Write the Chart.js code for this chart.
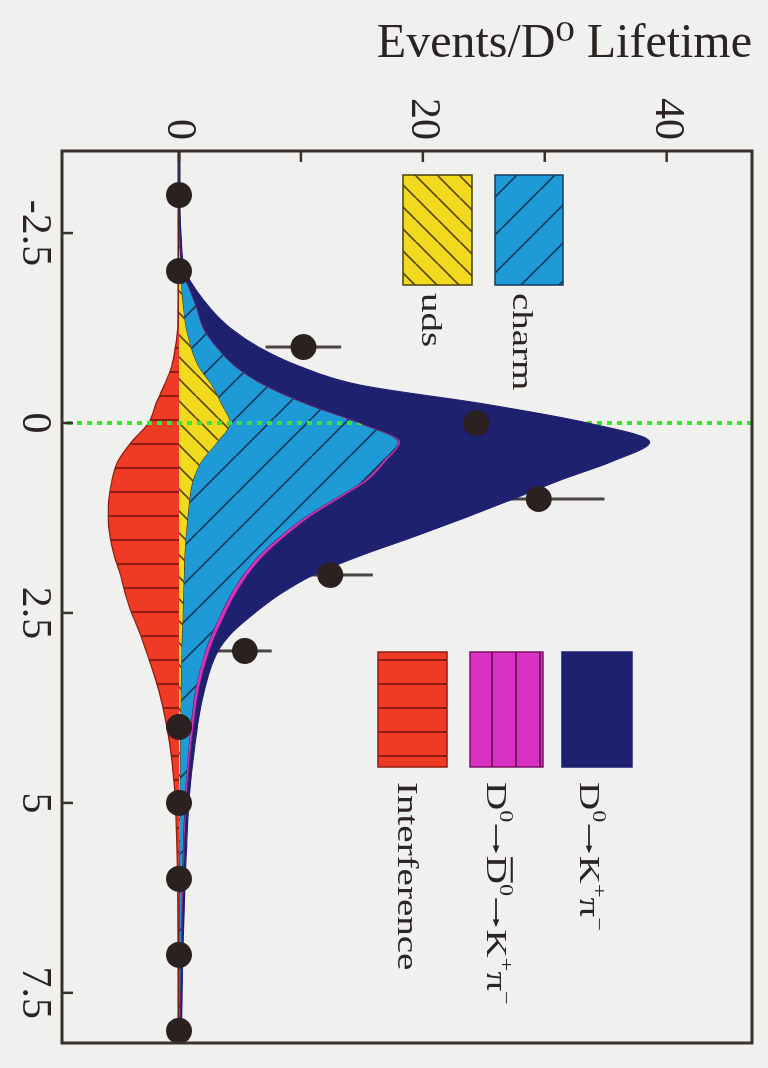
<!DOCTYPE html>
<html><head><meta charset="utf-8">
<style>
html,body{margin:0;padding:0;background:#f0f1ee;overflow:hidden;width:768px;height:1068px;}
#wrap{position:absolute;left:0;top:0;width:1068px;height:768px;transform-origin:0 0;transform:translate(768px,0) rotate(90deg);}
canvas{display:block;}
</style>
<script src="https://cdn.jsdelivr.net/npm/chart.js@4/dist/chart.umd.min.js"></script>
</head><body>
<div id="wrap"><canvas id="c" width="1068" height="768"></canvas></div>
<script>
// ---- data ----
const lifetimes = [-3.5,-3,-2.5,-2,-1.75,-1.5,-1.25,-1,-0.75,-0.5,-0.25,0,0.25,0.5,0.75,1,1.25,1.5,1.75,2,2.25,2.5,2.75,3,3.5,4,4.5,5,6,7,8];
const udsEvents = [0,0,0.05,0.15,0.25,0.4,0.6,1.0,1.6,2.7,3.5,4.2,3.2,1.9,1.2,0.9,0.75,0.6,0.5,0.45,0.4,0.35,0.3,0.25,0.2,0.15,0.12,0.1,0.05,0.04,0.03];
const charmEvents = [0,0,0.05,0.15,0.65,1.1,1.4,2.1,3.0,4.3,7.0,10.6,14.8,14.9,14.1,11.9,9.55,7.7,6.1,4.85,3.9,3.15,2.5,1.95,1.2,0.85,0.58,0.4,0.25,0.16,0.07];
const mixingEvents = [0,0,0.01,0.01,0.02,0.02,0.02,0.03,0.04,0.05,0.07,0.1,0.15,0.2,0.25,0.3,0.32,0.35,0.35,0.35,0.35,0.35,0.32,0.3,0.25,0.2,0.15,0.12,0.06,0.03,0.02];
const signalEvents = [0,0,0.04,0.19,0.48,1.08,2.18,3.37,5.16,7.75,14.43,18.6,20.45,18.6,15.75,14.3,12.78,10.55,7.85,5.35,3.65,2.35,1.28,0.7,0.45,0.3,0.25,0.18,0.14,0.07,0.08];
const interferenceEvents = [0,0,0,0,-0.02,-0.05,-0.1,-0.3,-0.6,-1.2,-1.9,-2.5,-3.9,-5.0,-5.5,-5.75,-5.8,-5.65,-5.3,-4.8,-4.4,-3.9,-3.25,-2.7,-1.7,-1.0,-0.55,-0.3,-0.12,-0.05,0];

const binCenters = [-3,-2,-1,0,1,2,3,4,5,6,7,8];
const dataEvents = [0,0,10.2,24.4,29.5,12.4,5.4,0,0,0,0,0];
const dataErrors = [0,0,3.1,4.9,5.4,3.5,2.2,0,0,0,0,0];

const lifetimeTicks = [-2.5,0,2.5,5,7.5];
const lifetimeTickLabels = ['-2.5','0','2.5','5','7.5'];
const eventTicks = [0,10,20,30,40];
const eventTickLabels = ['0','','20','','40'];
const axisTitle = 'Events/D\u2070 Lifetime';

const legendLabels = ['uds','charm','Interference','D^0\u2192~D^0\u2192K^+\u03c0^\u2212','D^0\u2192K^+\u03c0^\u2212'];

// ---- derived stacks ----
const cumUds = udsEvents.slice();
const cumCharm = cumUds.map((v,i)=>v+charmEvents[i]);
const cumMix = cumCharm.map((v,i)=>v+mixingEvents[i]);
const cumSig = cumMix.map((v,i)=>v+signalEvents[i]);
const toPts = arr => lifetimes.map((t,i)=>({x:t,y:arr[i]}));

const FONT = "'Liberation Serif','DejaVu Serif',serif";
const ctxMain = document.getElementById('c').getContext('2d');

function hatch(bg, line, kind, s, lw){
  const c=document.createElement('canvas'); c.width=s; c.height=s;
  const g=c.getContext('2d');
  g.fillStyle=bg; g.fillRect(0,0,s,s);
  g.strokeStyle=line; g.lineWidth=lw; g.beginPath();
  if(kind==='v'){g.moveTo(s/2,0);g.lineTo(s/2,s);}
  else if(kind==='h'){g.moveTo(0,s/2);g.lineTo(s,s/2);}
  else if(kind==='/'){for(const k of [-s,0,s]){g.moveTo(k,s);g.lineTo(k+s,0);}}
  else {for(const k of [-s,0,s]){g.moveTo(k,0);g.lineTo(k+s,s);}}
  g.stroke();
  return ctxMain.createPattern(c,'repeat');
}
const C = {
  red:'#ef3b25', yellow:'#f1da1e', cyan:'#1e9bd6', magenta:'#d830c0', navy:'#1e2070',
  ink:'#2c2422', green:'#3be23a'
};
const redPat = hatch(C.red,'#8c1d14','v',24,2);
const yellowPat = hatch(C.yellow,'#5a4a12','/',22,1.6);
const cyanPat = hatch(C.cyan,'#173a5e','\\',38,1.6);
const magPat = hatch(C.magenta,'#7a1566','h',24,2);

function drawRich(ctx, str, x, y, size, sx){
  ctx.save(); ctx.translate(x,y); ctx.scale(sx,1);
  ctx.textBaseline='alphabetic'; ctx.textAlign='left';
  ctx.fillStyle=C.ink; ctx.strokeStyle=C.ink;
  let cx=0;
  for(let i=0;i<str.length;i++){
    let ch=str[i], sup=false, bar=false;
    if(ch==='^'){sup=true; ch=str[++i];}
    if(ch==='~'){bar=true; ch=str[++i];}
    if(ch==='\u2192'){
      const aw=size*0.86, ay=-size*0.3;
      ctx.lineWidth=size*0.06;
      ctx.beginPath(); ctx.moveTo(cx+size*0.06,ay); ctx.lineTo(cx+aw-size*0.2,ay); ctx.stroke();
      ctx.beginPath(); ctx.moveTo(cx+aw-size*0.06,ay); ctx.lineTo(cx+aw-size*0.26,ay-size*0.11);
      ctx.lineTo(cx+aw-size*0.26,ay+size*0.11); ctx.closePath(); ctx.fill();
      cx+=aw; continue;
    }
    const fs = sup? size*0.62 : size;
    ctx.font = fs+'px '+FONT;
    const w = ctx.measureText(ch).width;
    ctx.fillText(ch, cx, sup? -size*0.42 : 0);
    if(bar){ ctx.fillRect(cx+1, -size*0.86, w-2, size*0.07); }
    cx += w;
  }
  ctx.restore();
}

const decor = {
  id:'decor',
  beforeDatasetsDraw(chart){
    const {ctx, chartArea:a, scales:{x,y}} = chart;
    const y0 = y.getPixelForValue(0);
    ctx.save(); ctx.strokeStyle=C.ink; ctx.lineWidth=3;
    ctx.beginPath(); ctx.moveTo(a.left,y0); ctx.lineTo(a.right,y0); ctx.stroke();
    // error bars (under the filled areas, as in the reference)
    ctx.strokeStyle='#4a4442'; ctx.lineWidth=3;
    binCenters.forEach((t,i)=>{
      if(!dataErrors[i]) return;
      const px=x.getPixelForValue(t);
      ctx.beginPath();
      ctx.moveTo(px,y.getPixelForValue(dataEvents[i]-dataErrors[i]));
      ctx.lineTo(px,y.getPixelForValue(dataEvents[i]+dataErrors[i]));
      ctx.stroke();
    });
    ctx.restore();
  },
  afterDatasetDraw(chart, args){
    const {ctx, chartArea:a, scales:{x}} = chart;
    if(args.index===2){
      const x0 = x.getPixelForValue(0);
      ctx.save(); ctx.strokeStyle=C.green; ctx.lineWidth=4; ctx.setLineDash([5,5]);
      ctx.beginPath(); ctx.moveTo(x0,a.top); ctx.lineTo(x0,a.bottom); ctx.stroke(); ctx.restore();
    }
  },
  afterDatasetsDraw(chart){
    const {ctx, chartArea:a, scales:{x,y}} = chart;
    ctx.save();
    ctx.strokeStyle='#3a302c'; ctx.lineWidth=3;
    ctx.strokeRect(a.left,a.top,a.right-a.left,a.bottom-a.top);
    ctx.lineWidth=2.5;
    lifetimeTicks.forEach(t=>{const px=x.getPixelForValue(t);ctx.beginPath();ctx.moveTo(px,a.bottom);ctx.lineTo(px,a.bottom-11);ctx.stroke();});
    eventTicks.forEach(v=>{const py=y.getPixelForValue(v);ctx.beginPath();ctx.moveTo(a.left,py);ctx.lineTo(a.left+11,py);ctx.stroke();});
    const L = a.left, T = a.top;
    const boxes = [
      {x:L+24, y:T+280, w:110, h:69, fill:yellowPat, stroke:'#4a3e10', tx:L+142, ty:T+330},
      {x:L+24, y:T+189, w:110, h:68, fill:cyanPat, stroke:'#173a5e', tx:L+142, ty:T+239},
      {x:L+501, y:T+305, w:115, h:69, fill:redPat, stroke:'#8c1d14', tx:L+631, ty:T+354},
      {x:L+501, y:T+209, w:115, h:73, fill:magPat, stroke:'#7a1566', tx:L+631, ty:T+265},
      {x:L+501, y:T+120, w:115, h:70, fill:C.navy, stroke:C.navy, tx:L+631, ty:T+172}
    ];
    boxes.forEach((b,i)=>{
      ctx.fillStyle=b.fill; ctx.fillRect(b.x,b.y,b.w,b.h);
      ctx.strokeStyle=b.stroke; ctx.lineWidth=1.5; ctx.strokeRect(b.x,b.y,b.w,b.h);
      drawRich(ctx, legendLabels[i], b.tx, b.ty, 30, 1.3);
    });
    ctx.restore();
  }
};

const areaDs = (data, bg, border, fill, order) => ({
  data, backgroundColor:bg, borderColor:border, borderWidth:1.2, fill, order,
  pointRadius:0, cubicInterpolationMode:'monotone'
});

new Chart(ctxMain, {
  type:'line',
  data:{ datasets:[
    areaDs(toPts(interferenceEvents), redPat, '#8c1d14', 'origin', 5),
    areaDs(toPts(cumUds), yellowPat, '#4a3e10', 'origin', 4),
    areaDs(toPts(cumCharm), cyanPat, '#173a5e', '-1', 3),
    areaDs(toPts(cumMix), C.magenta, '#8a1a70', '-1', 2),
    areaDs(toPts(cumSig), C.navy, C.navy, '-1', 1),
    { data: binCenters.map((t,i)=>({x:t,y:dataEvents[i]})), showLine:false, fill:false, order:0,
      pointRadius:13, pointBackgroundColor:'#2b2120', pointBorderWidth:0, pointHoverRadius:13 }
  ]},
  options:{
    responsive:false, animation:false, devicePixelRatio:1,
    layout:{padding:{top:16,right:25,left:0,bottom:0}},
    plugins:{legend:{display:false}, tooltip:{enabled:false}},
    events:[],
    scales:{
      x:{ type:'linear', min:-3.58, max:8.16,
        afterBuildTicks:s=>{s.ticks=lifetimeTicks.map(v=>({value:v}));},
        afterFit:s=>{s.height=62; s.paddingLeft=0; s.paddingRight=0;},
        grid:{display:false, drawTicks:false}, border:{display:false},
        ticks:{autoSkip:false, maxRotation:0, padding:3, color:C.ink,
          font:{family:FONT,size:42}, callback:(v,i)=>lifetimeTickLabels[i]} },
      y:{ type:'linear', min:-9.6, max:47.0,
        afterBuildTicks:s=>{s.ticks=eventTicks.map(v=>({value:v}));},
        afterFit:s=>{s.width=151; s.paddingTop=0; s.paddingBottom=0;},
        grid:{display:false, drawTicks:false}, border:{display:false},
        ticks:{autoSkip:false, padding:11, color:C.ink,
          font:{family:FONT,size:42}, callback:(v,i)=>eventTickLabels[i]},
        title:{display:true, text:axisTitle, align:'end', color:C.ink,
          font:{family:FONT,size:48}, padding:{top:16,bottom:0}} }
    }
  },
  plugins:[decor]
});
</script>
</body></html>
